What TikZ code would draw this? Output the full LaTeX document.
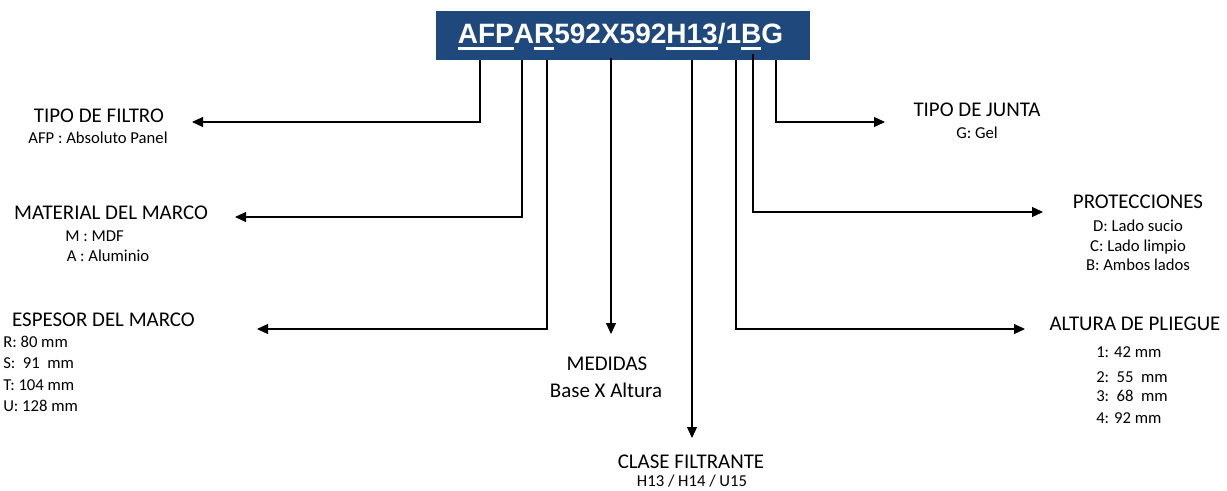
\documentclass[tikz,border=0pt]{standalone}
\usepackage{fontspec}
\setmainfont{Carlito}
\newfontfamily\arialfont{Liberation Sans}
\usetikzlibrary{arrows.meta}
\definecolor{boxblue}{RGB}{31,73,125}
\newsavebox\ulbox
\newcommand\myul[1]{\sbox\ulbox{#1}\rlap{\rule[-4.9pt]{\wd\ulbox}{1.9pt}}\usebox\ulbox}
\begin{document}
\begin{tikzpicture}[x=0.75pt,y=-0.75pt,
  head/.style={anchor=base,inner sep=0pt,font=\fontsize{15.7}{18}\selectfont},
  sub/.style={anchor=base,inner sep=0pt,font=\fontsize{12.5}{15}\selectfont},
  subl/.style={sub,anchor=base west},
  conn/.style={line width=0.8pt,-{Triangle[length=8.25pt,width=7.5pt]}}]
\useasboundingbox (0,0) rectangle (1227,490);
% code box
\node[fill=boxblue,minimum width=280.5pt,minimum height=36.75pt,inner sep=0pt] (box) at (623,35.5) {};
\node[anchor=base,inner sep=0pt,text=white,font=\arialfont\bfseries\fontsize{21}{24}\selectfont] (code) at (620.5,43)
  {\myul{AFP}A\myul{R}592X592\myul{H13}/1\myul{B}G};
% labels left
\node[head] (tf) at (99,122) {TIPO DE FILTRO};
\node[sub] (tfd) at (98,143) {AFP : Absoluto Panel};
\node[head] (mm) at (111,219) {MATERIAL DEL MARCO};
\node[sub] (mm1) at (94.5,241) {M : MDF};
\node[sub] (mm2) at (108,261) {A : Aluminio};
\node[head] (em) at (103.5,326) {ESPESOR DEL MARCO};
\node[subl] (em1) at (3,347) {R: 80 mm};
\node[subl] (em2) at (3,368) {S:~~91~~mm};
\node[subl] (em3) at (3,390) {T: 104 mm};
\node[subl] (em4) at (3,411) {U: 128 mm};
% labels middle
\node[head] (me) at (607,370) {MEDIDAS};
\node[head] (me1) at (606,397) {Base X Altura};
\node[head] (cf) at (691,468) {CLASE FILTRANTE};
\node[sub] (cf1) at (692,486.5) {H13 / H14 / U15};
% labels right
\node[head] (tj) at (977,116) {TIPO DE JUNTA};
\node[sub] (tj1) at (977,138) {G: Gel};
\node[head] (pr) at (1138,208) {PROTECCIONES};
\node[sub] (pr1) at (1138,231) {D: Lado sucio};
\node[sub] (pr2) at (1138,251) {C: Lado limpio};
\node[sub] (pr3) at (1138,270) {B: Ambos lados};
\node[head] (ap) at (1135,330) {ALTURA DE PLIEGUE};
\node[subl] (ap1) at (1096,357) {1: 42 mm};
\node[subl] (ap2) at (1096,382) {2:~~55~~mm};
\node[subl] (ap3) at (1096,401) {3:~~68~~mm};
\node[subl] (ap4) at (1096,423) {4: 92 mm};
% connector start points
\coordinate (s1) at (480,60);
\coordinate (s2) at (522,60);
\coordinate (s3) at (547,60);
\coordinate (s4) at (611,58);
\coordinate (s5) at (692,60);
\coordinate (s6) at (736,60);
\coordinate (s7) at (753,54);
\coordinate (s8) at (776,60);
% connector tips
\coordinate (t1) at (192,122);
\coordinate (t2) at (235,217);
\coordinate (t3) at (257,329);
\coordinate (t4) at (611,334);
\coordinate (t5) at (692,438);
\coordinate (t6) at (1025,329);
\coordinate (t7) at (1043,212);
\coordinate (t8) at (885,122);
\draw[conn] (s1) |- (t1);
\draw[conn] (s2) |- (t2);
\draw[conn] (s3) |- (t3);
\draw[conn] (s4) -- (t4);
\draw[conn] (s5) -- (t5);
\draw[conn] (s6) |- (t6);
\draw[conn] (s7) |- (t7);
\draw[conn] (s8) |- (t8);
\end{tikzpicture}
\end{document}
